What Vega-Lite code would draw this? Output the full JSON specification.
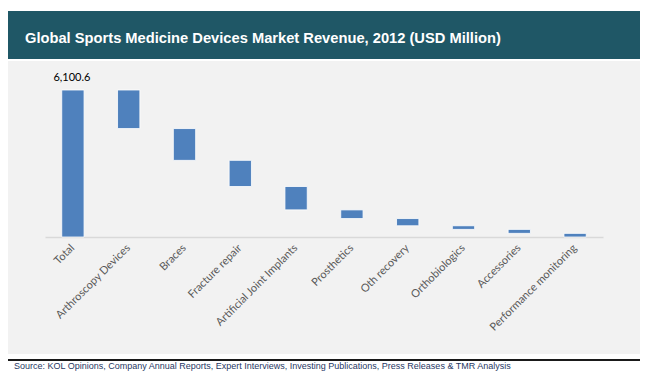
{
  "$schema": "https://vega.github.io/schema/vega-lite/v6.json",
  "background": "white",
  "padding": {"left": 8, "top": 11, "right": 0, "bottom": 0},
  "spacing": 2,
  "config": {"view": {"stroke": null}},
  "vconcat": [
    {
      "width": 632,
      "height": 48,
      "view": {"fill": "#1F5766", "stroke": null},
      "title": {
        "text": "Global Sports Medicine Devices Market Revenue, 2012 (USD Million)",
        "anchor": "start",
        "frame": "group",
        "orient": "top",
        "offset": -31,
        "baseline": "alphabetic",
        "dx": 17,
        "dy": 16,
        "font": "Liberation Sans",
        "fontSize": 14.7,
        "fontWeight": "bold",
        "color": "white"
      },
      "data": {"values": [{"a": 1}]},
      "mark": {"type": "text", "text": " "},
      "encoding": {}
    },
    {
      "spacing": 0,
      "vconcat": [
        {
          "width": 632,
          "height": 293,
          "view": {"fill": "#F2F2F2", "stroke": null},
          "data": {
            "values": [
              {"category": "Total", "start": 0, "end": 6100.6},
              {"category": "Arthroscopy Devices", "start": 6100.6, "end": 4500.6},
              {"category": "Braces", "start": 4500.6, "end": 3180.6},
              {"category": "Fracture repair", "start": 3180.6, "end": 2095.6},
              {"category": "Artificial Joint Implants", "start": 2095.6, "end": 1125.6},
              {"category": "Prosthetics", "start": 1125.6, "end": 765.6},
              {"category": "Oth recovery", "start": 765.6, "end": 465.6},
              {"category": "Orthobiologics", "start": 465.6, "end": 315.6},
              {"category": "Accessories", "start": 315.6, "end": 150.6},
              {"category": "Performance monitoring", "start": 150.6, "end": 0}
            ]
          },
          "encoding": {
            "x": {
              "field": "category",
              "type": "nominal",
              "sort": null,
              "scale": {"range": [37, 595], "paddingInner": 0.6, "paddingOuter": 0.3},
              "axis": {
                "title": null,
                "orient": "bottom",
                "offset": -117,
                "domain": true,
                "domainColor": "#D9D9D9",
                "domainWidth": 1.5,
                "ticks": false,
                "tickSize": 0,
                "labelAngle": -45,
                "labelAlign": "right",
                "labelBaseline": "middle",
                "labelFont": "Lato",
                "labelFontSize": 11,
                "labelColor": "#595959",
                "labelPadding": 9,
                "labelOverlap": false,
                "labelLimit": 300
              }
            }
          },
          "layer": [
            {
              "mark": {"type": "bar", "color": "#4F81BD", "stroke": "#FFFFFF", "strokeWidth": 1, "strokeOpacity": 0.8},
              "encoding": {
                "y": {
                  "field": "start",
                  "type": "quantitative",
                  "scale": {"domain": [0, 6100.6], "range": [176, 29], "nice": false},
                  "axis": null
                },
                "y2": {"field": "end"}
              }
            },
            {
              "transform": [{"filter": "datum.category === 'Total'"}],
              "mark": {"type": "text", "font": "Lato", "fontSize": 11, "color": "#000000", "baseline": "alphabetic", "dy": -9, "dx": -1},
              "encoding": {
                "y": {"field": "end", "type": "quantitative"},
                "text": {"field": "end", "type": "quantitative", "format": ",.1f"}
              }
            }
          ]
        },
        {
          "width": 632,
          "height": 2,
          "view": {"fill": "#1A1A1A", "stroke": null},
          "title": {
            "text": "Source: KOL Opinions, Company Annual Reports, Expert Interviews, Investing Publications, Press Releases & TMR Analysis",
            "anchor": "start",
            "frame": "group",
            "orient": "bottom",
            "offset": 4,
            "baseline": "alphabetic",
            "dx": 6,
            "font": "Liberation Sans",
            "fontSize": 9,
            "fontWeight": "normal",
            "color": "#1F3864"
          },
          "data": {"values": [{"a": 1}]},
          "mark": {"type": "text", "text": " "},
          "encoding": {}
        }
      ]
    }
  ]
}
